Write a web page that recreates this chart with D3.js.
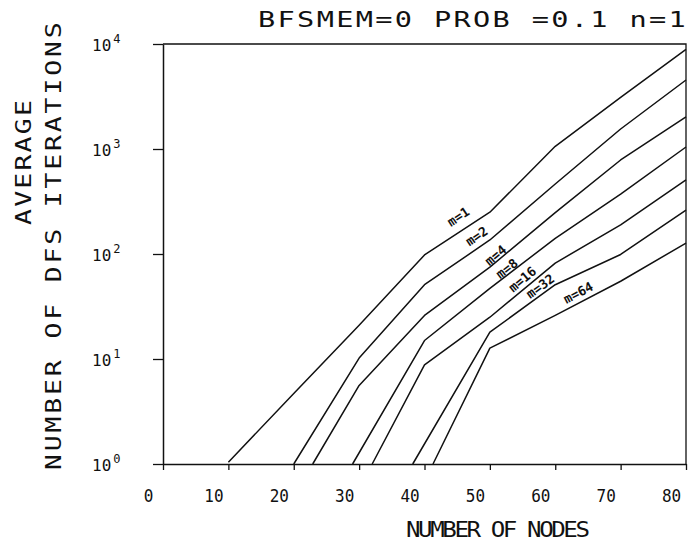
<!DOCTYPE html>
<html>
<head>
<meta charset="utf-8">
<script src="https://cdn.jsdelivr.net/npm/d3@7"></script>
<style>
  body { margin: 0; background: #fff; }
  text { font-family: "DejaVu Sans Mono", monospace; fill: #111; }
</style>
</head>
<body>
<svg id="chart" width="691" height="546"></svg>
<script>
// tick values
var xTicks = [0, 10, 20, 30, 40, 50, 60, 70, 80];
var yTicks = [1, 10, 100, 1000, 10000];

// series: [number of nodes, average DFS iterations]
var m1 = [[10, 1.04], [20, 4.7], [30, 21], [40, 98], [50, 250], [60, 1060], [70, 3100], [80, 8900]];
var m2 = [[20, 1], [30, 10.2], [40, 51], [50, 136], [60, 464], [70, 1550], [80, 4540]];
var m4 = [[22.9, 1], [30, 5.6], [40, 26], [50, 75], [60, 248], [70, 786], [80, 2020]];
var m8 = [[29, 1], [40, 15], [50, 47], [60, 141], [70, 372], [80, 1045]];
var m16 = [[32, 1], [40, 8.8], [50, 25], [60, 82], [70, 189], [80, 507]];
var m32 = [[38.2, 1], [50, 18], [60, 51], [70, 99], [80, 262]];
var m64 = [[41.3, 1], [50, 12.7], [60, 26], [70, 55], [80, 127]];

var seriesNames = ["m=1", "m=2", "m=4", "m=8", "m=16", "m=32", "m=64"];
var seriesData = [m1, m2, m4, m8, m16, m32, m64];
// where along each curve the label sits (x value)
var labelAt = [46.3, 48.9, 51.4, 53.1, 55.8, 58.4, 64.2];

var svg = d3.select("#chart");

var x = d3.scaleLinear().domain([0, 80]).range([163, 686]);
var y = d3.scaleLog().domain([1, 10000]).range([464, 44]);

// frame
svg.append("path")
    .attr("d", "M" + x(0) + "," + y(10000) + "H" + x(80) + "V" + y(1))
    .attr("fill", "none")
    .attr("stroke", "#111")
    .attr("stroke-width", 1.3);

// x axis
var xAxis = d3.axisBottom(x)
    .tickValues(xTicks)
    .tickSize(6)
    .tickSizeOuter(0)
    .tickFormat(d3.format("d"));

var gx = svg.append("g")
    .attr("transform", "translate(0," + y(1) + ")")
    .call(xAxis);
gx.select(".domain").attr("stroke", "#111").attr("stroke-width", 1.5);
gx.selectAll(".tick line").attr("stroke", "#111").attr("stroke-width", 1.3);
gx.selectAll(".tick text")
    .attr("dx", -15)
    .attr("y", 23)
    .attr("fill", "#111")
    .attr("transform", "scale(1,1.1)")
    .style("font-size", "16px");

// y axis
var yAxis = d3.axisLeft(y)
    .tickValues(yTicks)
    .tickSize(10)
    .tickSizeOuter(0)
    .tickFormat("");

var gy = svg.append("g")
    .attr("transform", "translate(" + x(0) + ",0)")
    .call(yAxis);
gy.select(".domain").attr("stroke", "#111").attr("stroke-width", 1.5);
gy.selectAll(".tick line").attr("stroke", "#111").attr("stroke-width", 1.3);

var yLab = gy.selectAll(".tick").append("text")
    .attr("x", -71)
    .attr("y", 6)
    .attr("text-anchor", "start")
    .style("font-size", "16px");
yLab.append("tspan").text("10");
yLab.append("tspan")
    .attr("dx", 2)
    .attr("dy", -8)
    .style("font-size", "12px")
    .text(function (d) { return Math.round(Math.log10(d)); });

// curves
var line = d3.line()
    .x(function (d) { return x(d[0]); })
    .y(function (d) { return y(d[1]); });

svg.append("g").selectAll("path")
    .data(seriesData)
    .enter()
    .append("path")
    .attr("d", line)
    .attr("fill", "none")
    .attr("stroke", "#111")
    .attr("stroke-width", 1.5)
    .attr("stroke-linejoin", "round");

// curve labels, rotated along the curve
var labelGap = [9, 6, 1, 1, 4, 3, 5];
seriesData.forEach(function (s, i) {
    var xv = labelAt[i];
    var k = 0;
    while (k < s.length - 2 && s[k + 1][0] < xv) k++;
    var p0 = [x(s[k][0]), y(s[k][1])];
    var p1 = [x(s[k + 1][0]), y(s[k + 1][1])];
    var t = (x(xv) - p0[0]) / (p1[0] - p0[0]);
    var py = p0[1] + t * (p1[1] - p0[1]);
    var ang = Math.atan2(p1[1] - p0[1], p1[0] - p0[0]) * 180 / Math.PI;
    svg.append("text")
        .attr("transform", "translate(" + x(xv) + "," + py + ") rotate(" + ang + ")")
        .attr("y", -labelGap[i])
        .attr("text-anchor", "middle")
        .style("font-size", "13px")
        .style("font-weight", "bold")
        .text(seriesNames[i]);
});

// titles
svg.append("text")
    .attr("transform", "translate(258,27) scale(1.3,1)")
    .attr("textLength", 329)
    .attr("lengthAdjust", "spacing")
    .style("font-size", "22px")
    .text("BFSMEM=0   PROB =0.1   n=1");

svg.append("text")
    .attr("transform", "translate(406,537) scale(1.15,1)")
    .attr("textLength", 160)
    .attr("lengthAdjust", "spacing")
    .style("font-size", "21px")
    .text("NUMBER OF NODES");

svg.append("text")
    .attr("transform", "translate(31,225) rotate(-90) scale(1.2,1)")
    .attr("textLength", 104)
    .attr("lengthAdjust", "spacing")
    .style("font-size", "22px")
    .text("AVERAGE");

svg.append("text")
    .attr("transform", "translate(61,470) rotate(-90) scale(1.2,1)")
    .attr("textLength", 373)
    .attr("lengthAdjust", "spacing")
    .style("font-size", "22px")
    .text("NUMBER OF DFS ITERATIONS");
</script>
</body>
</html>
